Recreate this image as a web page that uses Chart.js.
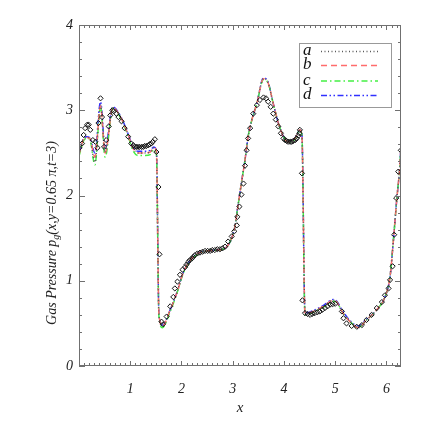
<!DOCTYPE html>
<html>
<head>
<meta charset="UTF-8">
<script src="https://cdn.jsdelivr.net/npm/chart.js@4"></script>
<style>
  html, body { margin: 0; padding: 0; background: #fff; }
  #wrap { width: 425px; height: 425px; }
</style>
</head>
<body>
<div id="wrap"><canvas id="c" width="425" height="425"></canvas></div>
<script>
// x sample positions for the four solution curves
const lineX = [0.00, 0.08, 0.14, 0.21, 0.31, 0.42, 0.51, 0.66, 0.82, 0.96,
  1.05, 1.15, 1.29, 1.39, 1.46, 1.51, 1.56, 1.63, 1.78, 1.91,
  2.03, 2.17, 2.32, 2.49, 2.69, 2.85, 2.95, 3.04, 3.10, 3.17,
  3.24, 3.30, 3.37, 3.47, 3.60, 3.69, 3.79, 3.89, 3.99, 4.08,
  4.21, 4.31, 4.35, 4.41, 4.57, 4.77, 4.96, 5.03, 5.13, 5.29,
  5.45, 5.61, 5.81, 5.97, 6.07, 6.13, 6.20, 6.26, 6.28];

const seriesA = [2.48, 2.65, 2.68, 2.67, 2.39, 3.06, 2.50, 3.03, 2.91, 2.71,
  2.56, 2.50, 2.50, 2.51, 2.56, 2.52, 0.60, 0.47, 0.66, 0.86,
  1.09, 1.24, 1.32, 1.35, 1.36, 1.38, 1.46, 1.63, 1.87, 2.15,
  2.42, 2.69, 2.88, 3.08, 3.37, 3.32, 3.08, 2.85, 2.69, 2.63,
  2.67, 2.77, 2.70, 0.62, 0.64, 0.70, 0.77, 0.75, 0.64, 0.52,
  0.45, 0.54, 0.66, 0.81, 1.05, 1.44, 1.95, 2.34, 2.55];

const seriesB = [2.48, 2.65, 2.68, 2.67, 2.45, 3.05, 2.50, 3.03, 2.91, 2.71,
  2.56, 2.50, 2.50, 2.51, 2.56, 2.52, 0.60, 0.47, 0.66, 0.86,
  1.09, 1.24, 1.32, 1.35, 1.36, 1.38, 1.46, 1.63, 1.87, 2.15,
  2.42, 2.69, 2.88, 3.08, 3.37, 3.32, 3.08, 2.85, 2.69, 2.63,
  2.67, 2.77, 2.70, 0.62, 0.64, 0.70, 0.77, 0.75, 0.64, 0.52,
  0.45, 0.54, 0.66, 0.81, 1.05, 1.44, 1.95, 2.34, 2.55];

const seriesC = [2.46, 2.63, 2.67, 2.66, 2.36, 3.04, 2.45, 3.02, 2.90, 2.69,
  2.53, 2.47, 2.47, 2.48, 2.54, 2.50, 0.58, 0.45, 0.64, 0.85,
  1.08, 1.23, 1.31, 1.35, 1.36, 1.38, 1.46, 1.63, 1.87, 2.15,
  2.42, 2.69, 2.88, 3.08, 3.36, 3.32, 3.08, 2.85, 2.69, 2.62,
  2.66, 2.77, 2.70, 0.60, 0.63, 0.69, 0.76, 0.75, 0.64, 0.52,
  0.45, 0.54, 0.66, 0.81, 1.05, 1.44, 1.95, 2.34, 2.55];

const seriesD = [2.50, 2.66, 2.69, 2.68, 2.50, 3.10, 2.55, 3.04, 2.92, 2.72,
  2.57, 2.52, 2.52, 2.53, 2.57, 2.53, 0.60, 0.48, 0.66, 0.86,
  1.09, 1.24, 1.32, 1.35, 1.36, 1.38, 1.46, 1.63, 1.87, 2.15,
  2.42, 2.69, 2.88, 3.08, 3.38, 3.33, 3.08, 2.85, 2.69, 2.63,
  2.67, 2.77, 2.71, 0.62, 0.65, 0.71, 0.78, 0.76, 0.66, 0.53,
  0.47, 0.55, 0.66, 0.81, 1.05, 1.44, 1.95, 2.34, 2.55];

// reference points (open diamonds)
const refX = [0.01, 0.06, 0.09, 0.12, 0.16, 0.19, 0.22, 0.27, 0.32, 0.36,
  0.38, 0.42, 0.45, 0.49, 0.53, 0.58, 0.61, 0.65, 0.68, 0.73,
  0.77, 0.83, 0.89, 0.96, 1.02, 1.06, 1.09, 1.12, 1.15, 1.18,
  1.22, 1.25, 1.28, 1.31, 1.35, 1.38, 1.41, 1.44, 1.48, 1.51,
  1.55, 1.57, 1.61, 1.64, 1.71, 1.78, 1.84, 1.87, 1.92, 1.97,
  2.02, 2.07, 2.10, 2.13, 2.16, 2.20, 2.23, 2.26, 2.31, 2.36,
  2.41, 2.46, 2.51, 2.56, 2.60, 2.65, 2.70, 2.75, 2.80, 2.85,
  2.91, 2.98, 3.03, 3.08, 3.09, 3.13, 3.17, 3.21, 3.24, 3.27,
  3.30, 3.34, 3.40, 3.47, 3.53, 3.60, 3.65, 3.69, 3.74, 3.79,
  3.84, 3.89, 3.94, 3.99, 4.02, 4.05, 4.08, 4.12, 4.15, 4.18,
  4.22, 4.25, 4.28, 4.30, 4.31, 4.35, 4.36, 4.41, 4.46, 4.51,
  4.55, 4.60, 4.65, 4.70, 4.75, 4.80, 4.85, 4.90, 4.95, 5.00,
  5.13, 5.16, 5.22, 5.32, 5.42, 5.52, 5.61, 5.71, 5.81, 5.91,
  5.97, 6.04, 6.07, 6.12, 6.15, 6.19, 6.23, 6.28];

const refY = [2.56, 2.61, 2.71, 2.79, 2.83, 2.83, 2.77, 2.65, 2.63, 2.56,
  2.85, 3.14, 2.92, 2.57, 2.65, 2.81, 2.94, 3.00, 2.99, 2.96,
  2.92, 2.87, 2.79, 2.69, 2.61, 2.59, 2.57, 2.57, 2.57, 2.57,
  2.57, 2.57, 2.58, 2.58, 2.59, 2.60, 2.61, 2.63, 2.66, 2.51,
  2.10, 1.31, 0.52, 0.49, 0.58, 0.70, 0.81, 0.91, 0.99, 1.07,
  1.13, 1.16, 1.19, 1.22, 1.24, 1.26, 1.28, 1.30, 1.32, 1.33,
  1.34, 1.35, 1.35, 1.35, 1.36, 1.36, 1.37, 1.37, 1.38, 1.40,
  1.46, 1.52, 1.58, 1.65, 1.75, 1.87, 2.01, 2.14, 2.35, 2.53,
  2.67, 2.79, 2.96, 3.06, 3.12, 3.15, 3.14, 3.10, 3.04, 2.96,
  2.89, 2.81, 2.73, 2.67, 2.65, 2.64, 2.63, 2.63, 2.63, 2.64,
  2.65, 2.67, 2.70, 2.73, 2.77, 2.26, 0.77, 0.62, 0.61, 0.60,
  0.61, 0.62, 0.63, 0.64, 0.66, 0.68, 0.70, 0.72, 0.725, 0.73,
  0.64, 0.56, 0.50, 0.47, 0.46, 0.48, 0.54, 0.60, 0.68, 0.75,
  0.83, 0.91, 1.01, 1.17, 1.54, 1.97, 2.28, 2.53];

const xTicks = [1, 2, 3, 4, 5, 6];
const yTicks = [0, 1, 2, 3, 4];
const legendNames = ['a', 'b', 'c', 'd'];

const SERIF = "'Liberation Serif', 'DejaVu Serif', serif";
const AXIS = '#707070';

function pts(xs, ys) {
  return xs.map((x, i) => ({ x, y: ys[i] }));
}

function lineSet(label, ys, color, dash) {
  return {
    label,
    data: pts(lineX, ys),
    showLine: true,
    borderColor: color,
    borderWidth: 1.5,
    borderDash: dash,
    pointRadius: 0,
    cubicInterpolationMode: 'monotone',
    order: 2,
  };
}

// inward minor/major ticks on all four sides, frame, legend, y title
const decorations = {
  id: 'decorations',
  afterDraw(chart) {
    const { ctx, chartArea: a, scales: { x, y } } = chart;
    ctx.save();
    ctx.strokeStyle = AXIS;
    ctx.lineWidth = 1;
    ctx.strokeRect(a.left + 0.5, a.top + 0.5, a.right - a.left - 1, a.bottom - a.top - 1);

    ctx.beginPath();
    for (let i = 0; i <= 62; i++) {
      const v = i / 10;
      const px = Math.round(x.getPixelForValue(v)) + 0.5;
      const len = i % 10 === 0 ? 5 : 3;
      ctx.moveTo(px, a.bottom); ctx.lineTo(px, a.bottom - len);
      ctx.moveTo(px, a.top); ctx.lineTo(px, a.top + len);
    }
    for (let i = 0; i <= 20; i++) {
      const v = i / 5;
      const py = Math.round(y.getPixelForValue(v)) + 0.5;
      const len = i % 5 === 0 ? 6 : 3;
      ctx.moveTo(a.left, py); ctx.lineTo(a.left + len, py);
      ctx.moveTo(a.right, py); ctx.lineTo(a.right - len, py);
    }
    ctx.stroke();

    // legend box
    const bx = 299.5, by = 43.5, bw = 92, bh = 64;
    ctx.fillStyle = '#fff';
    ctx.fillRect(bx, by, bw, bh);
    ctx.strokeStyle = '#999';
    ctx.strokeRect(bx, by, bw, bh);
    const rows = [51, 65, 80.5, 95];
    ctx.font = 'italic 17px ' + SERIF;
    ctx.textBaseline = 'middle';
    ctx.textAlign = 'left';
    legendNames.forEach((name, i) => {
      const ds = chart.data.datasets.find(d => d.label === name);
      ctx.fillStyle = '#111';
      ctx.fillText(name, 303, rows[i]);
      ctx.beginPath();
      ctx.strokeStyle = ds.borderColor;
      ctx.lineWidth = 1.5;
      ctx.setLineDash(ds.borderDash);
      ctx.moveTo(321, rows[i] + 0.5);
      ctx.lineTo(378, rows[i] + 0.5);
      ctx.stroke();
    });
    ctx.setLineDash([]);

    // y axis title with subscript
    ctx.translate(52, 233);
    ctx.rotate(-Math.PI / 2);
    ctx.fillStyle = '#222';
    ctx.textBaseline = 'middle';
    const big = 'italic 14px ' + SERIF, small = 'italic 10px ' + SERIF;
    const p1 = 'Gas Pressure p', p2 = 'g', p3 = '(x,y=0.65 \u03c0,t=3)';
    ctx.font = big; const w1 = ctx.measureText(p1).width, w3 = ctx.measureText(p3).width;
    ctx.font = small; const w2 = ctx.measureText(p2).width;
    let tx = -(w1 + w2 + w3) / 2;
    ctx.font = big; ctx.fillText(p1, tx, 0); tx += w1;
    ctx.font = small; ctx.fillText(p2, tx, 4); tx += w2;
    ctx.font = big; ctx.fillText(p3, tx, 0);
    ctx.restore();
  },
};

new Chart(document.getElementById('c'), {
  type: 'scatter',
  data: {
    datasets: [
      {
        label: 'ref',
        data: pts(refX, refY),
        showLine: false,
        pointStyle: 'rectRot',
        pointRadius: 2.6,
        borderColor: '#111',
        borderWidth: 1,
        backgroundColor: 'rgba(0,0,0,0)',
        order: 1,
      },
      lineSet('a', seriesA, '#5a5a5a', [1, 2.5]),
      lineSet('b', seriesB, '#ff6c6c', [6, 4]),
      lineSet('c', seriesC, '#44f044', [6, 3, 1.5, 3]),
      lineSet('d', seriesD, '#3030ff', [6, 2.5, 1.5, 2.5, 1.5, 2.5]),
    ],
  },
  options: {
    responsive: false,
    animation: false,
    events: [],
    layout: { padding: { left: 0, right: 24, top: 25, bottom: 0 } },
    plugins: { legend: { display: false }, tooltip: { enabled: false } },
    scales: {
      x: {
        type: 'linear',
        min: 0,
        max: 2 * Math.PI,
        grid: { display: false, drawTicks: false },
        border: { display: false },
        afterBuildTicks: s => { s.ticks = xTicks.map(v => ({ value: v })); },
        afterFit: s => { s.height = 59; },
        ticks: {
          padding: 15,
          color: '#222',
          maxRotation: 0,
          font: { family: SERIF, size: 14, style: 'italic' },
        },
        title: {
          display: true,
          text: 'x',
          color: '#222',
          padding: { top: 0, bottom: 8 },
          font: { family: SERIF, size: 15, style: 'italic' },
        },
      },
      y: {
        type: 'linear',
        min: 0,
        max: 4,
        grid: { display: false, drawTicks: false },
        border: { display: false },
        afterBuildTicks: s => { s.ticks = yTicks.map(v => ({ value: v })); },
        afterFit: s => { s.width = 79; },
        ticks: {
          padding: 6,
          color: '#222',
          font: { family: SERIF, size: 14, style: 'italic' },
        },
      },
    },
  },
  plugins: [decorations],
});
</script>
</body>
</html>
